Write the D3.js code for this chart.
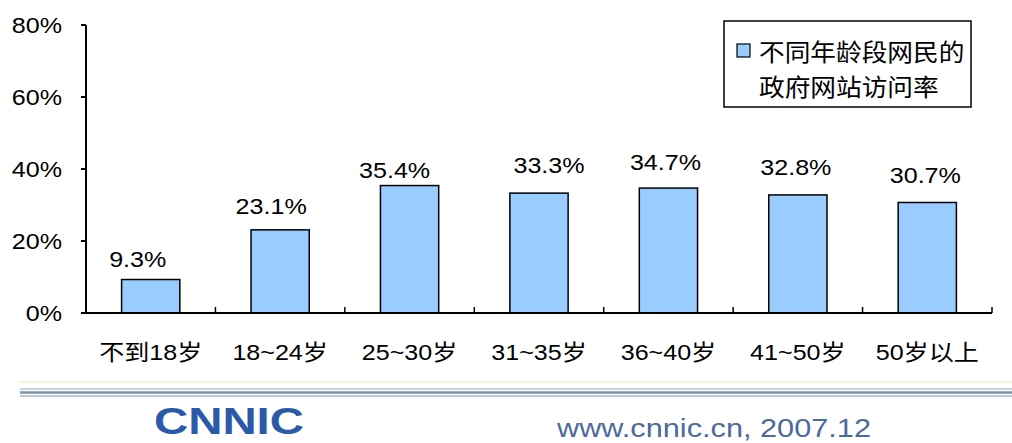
<!DOCTYPE html>
<html lang="zh">
<head>
<meta charset="UTF-8">
<title>不同年龄段网民的政府网站访问率</title>
<script src="https://d3js.org/d3.v7.min.js"></script>
<style>
  body { margin: 0; background: #fff; }
  svg { display: block; }
  text { font-family: "Liberation Sans", Arial, sans-serif; fill: #000; }
  .cjk { font-family: "Liberation Sans", "Noto Sans CJK SC", sans-serif; }
</style>
</head>
<body>
<svg width="1012" height="443"></svg>
<script>
const categories = ["不到18岁", "18~24岁", "25~30岁", "31~35岁", "36~40岁", "41~50岁", "50岁以上"];
const values = [9.3, 23.1, 35.4, 33.3, 34.7, 32.8, 30.7];
const yTicks = [0, 20, 40, 60, 80];
const legendLines = ["不同年龄段网民的", "政府网站访问率"];

// label placement as Excel left it (px nudges, not data)
const labelDx = [-13, -9, -15, 10, -3, -2, -2];
const labelGap = [13, 16, 8, 20, 18, 20, 19];

const SX = 1.14; // source image is stretched horizontally
const svg = d3.select("svg");

const x = d3.scaleBand()
    .domain(categories)
    .range([86, 992])
    .paddingInner(0.55)
    .paddingOuter(0.275);

const y = d3.scaleLinear()
    .domain([0, 80])
    .range([313, 25]);

function stretched(sel) {
  return sel.attr("transform", d => `translate(${d.px},${d.py}) scale(${SX},1)`);
}

// bars
svg.selectAll("rect.bar")
   .data(values)
   .enter()
   .append("rect")
   .attr("class", "bar")
   .attr("x", (d, i) => x(categories[i]))
   .attr("y", d => y(d))
   .attr("width", x.bandwidth())
   .attr("height", d => y(0) - y(d))
   .attr("fill", "#99ccff")
   .attr("stroke", "#000")
   .attr("stroke-width", 1.5);

// value labels
svg.selectAll("text.val")
   .data(values.map((v, i) => ({
     v,
     px: x(categories[i]) + x.bandwidth() / 2 + labelDx[i],
     py: y(v) - labelGap[i]
   })))
   .enter()
   .append("text")
   .attr("class", "val")
   .call(stretched)
   .attr("text-anchor", "middle")
   .attr("font-size", 22)
   .text(d => d.v.toFixed(1) + "%");

// y axis
svg.append("line")
   .attr("x1", 86).attr("x2", 86)
   .attr("y1", y(80)).attr("y2", y(0))
   .attr("stroke", "#000").attr("stroke-width", 2);

svg.selectAll("line.ytick")
   .data(yTicks)
   .enter()
   .append("line")
   .attr("class", "ytick")
   .attr("x1", 81).attr("x2", 86)
   .attr("y1", d => y(d)).attr("y2", d => y(d))
   .attr("stroke", "#000").attr("stroke-width", 2);

svg.selectAll("text.ylab")
   .data(yTicks.map(t => ({ t, px: 62, py: y(t) + 8 })))
   .enter()
   .append("text")
   .attr("class", "ylab")
   .call(stretched)
   .attr("text-anchor", "end")
   .attr("font-size", 22)
   .text(d => d.t + "%");

// x axis
svg.append("line")
   .attr("x1", 85).attr("x2", 992)
   .attr("y1", y(0)).attr("y2", y(0))
   .attr("stroke", "#000").attr("stroke-width", 2);

const step = x.step();
svg.selectAll("line.xtick")
   .data(categories)
   .enter()
   .append("line")
   .attr("class", "xtick")
   .attr("x1", d => x(d) + x.bandwidth() / 2 + step / 2)
   .attr("x2", d => x(d) + x.bandwidth() / 2 + step / 2)
   .attr("y1", y(0) - 6).attr("y2", y(0))
   .attr("stroke", "#000").attr("stroke-width", 1.5);

svg.selectAll("text.xlab")
   .data(categories.map(c => ({ c, px: x(c) + x.bandwidth() / 2, py: 360 })))
   .enter()
   .append("text")
   .attr("class", "xlab cjk")
   .call(stretched)
   .attr("text-anchor", "middle")
   .attr("font-size", 22)
   .text(d => d.c);

// legend
const lg = svg.append("g");
lg.append("rect")
  .attr("x", 724).attr("y", 21)
  .attr("width", 247).attr("height", 86)
  .attr("fill", "#fff").attr("stroke", "#000").attr("stroke-width", 1.5);
lg.append("rect")
  .attr("x", 737).attr("y", 44)
  .attr("width", 13).attr("height", 13)
  .attr("fill", "#99ccff").attr("stroke", "#000").attr("stroke-width", 1.2);
lg.selectAll("text")
  .data(legendLines.map((t, i) => ({ t, px: 759, py: 61 + i * 35 })))
  .enter()
  .append("text")
  .attr("class", "cjk")
  .attr("transform", d => `translate(${d.px},${d.py}) scale(1.07,1)`)
  .attr("font-size", 24)
  .text(d => d.t);

// footer rules
const rules = [
  { y: 382, c: "#f6f3df", w: 2 },
  { y: 389, c: "#c8d0ea", w: 2 },
  { y: 392.5, c: "#7f93aa", w: 2.5 },
  { y: 396, c: "#aab8cc", w: 1.5 }
];
svg.selectAll("line.rule")
   .data(rules)
   .enter()
   .append("line")
   .attr("x1", 20).attr("x2", 1012)
   .attr("y1", d => d.y).attr("y2", d => d.y)
   .attr("stroke", d => d.c).attr("stroke-width", d => d.w);

// logo + source
svg.append("text")
   .attr("x", 154).attr("y", 434)
   .attr("font-size", 36)
   .attr("font-weight", "bold")
   .attr("textLength", 150)
   .attr("lengthAdjust", "spacingAndGlyphs")
   .style("fill", "#2b5aa8")
   .text("CNNIC");

svg.append("text")
   .attr("x", 557).attr("y", 437)
   .attr("font-size", 25)
   .attr("textLength", 314)
   .attr("lengthAdjust", "spacingAndGlyphs")
   .style("fill", "#4d6a9c")
   .text("www.cnnic.cn,  2007.12");
</script>
</body>
</html>
